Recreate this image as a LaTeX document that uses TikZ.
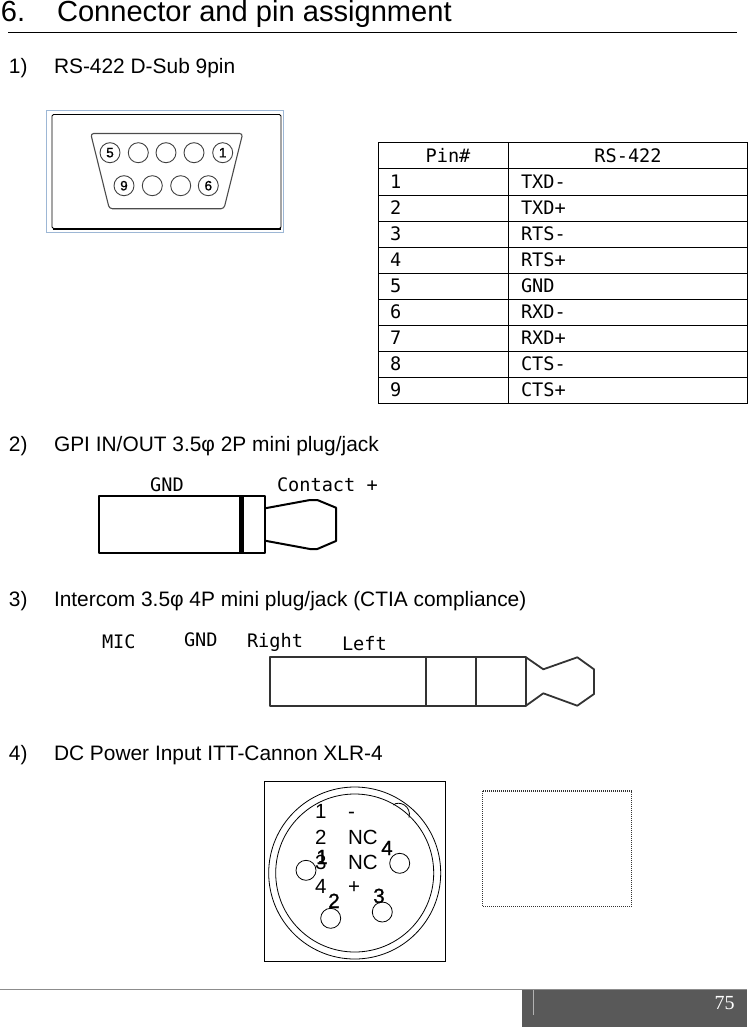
\documentclass[tikz,border=0pt]{standalone}
\usepackage{fontspec}
\setmainfont{Liberation Sans}
\newfontfamily\monof{DejaVu Sans Mono}
\newfontfamily\pagef{Liberation Serif}
\newfontfamily\fakebold[FakeBold=1.2]{Liberation Sans}
\definecolor{footgray}{HTML}{595959}
\definecolor{bluebox}{HTML}{9DB7D5}
\definecolor{plugblack}{HTML}{333333}
\tikzset{
  x=1pt,y=-1pt,
  every node/.style={inner sep=0pt,outer sep=0pt,anchor=base west},
  title/.style={font=\fontsize{29.1}{32}\selectfont},
  sub/.style={font=\fontsize{20.9}{24}\selectfont},
  mono/.style={font=\monof\fontsize{18.6}{22}\selectfont},
  tabhead/.style={mono,anchor=base},
  xlrtext/.style={font=\fontsize{20.5}{24}\selectfont},
  xlrpin/.style={font=\fakebold\fontsize{20.5}{24}\selectfont,anchor=base},
  grid/.style={draw=black,line width=1pt},
  pinc/.style={draw=black!75,line width=0.9pt},
  pinlab/.style={font=\fakebold\fontsize{13.5}{14}\selectfont},
  plug/.style={draw=black,line width=2pt,line join=round},
  plugb/.style={draw=plugblack,line width=1.8pt,line join=round},
  xlr/.style={draw=black,line width=0.8pt},
}
\begin{document}
\begin{tikzpicture}
\useasboundingbox (0,0) rectangle (747,1027);
% heading
\node[title] (h6) at (1,21.5) {6.};
\node[title] (h6t) at (57,21.5) {Connector and pin assignment};
\draw[black,line width=0.8pt] (8,32.5) -- (737,32.5);
% section lines
\node[sub] (s1n) at (9,73.3) {1)};
\node[sub] (s1) at (54,73.3) {RS-422 D-Sub 9pin};
\node[sub] (s2n) at (9,451.3) {2)};
\node[sub] (s2) at (54,451.3) {GPI IN/OUT 3.5φ 2P mini plug/jack};
\node[sub] (s3n) at (9,606.3) {3)};
\node[sub] (s3) at (54,606.3) {Intercom 3.5φ 4P mini plug/jack (CTIA compliance)};
\node[sub] (s4n) at (9,760.3) {4)};
\node[sub] (s4) at (54,760.3) {DC Power Input ITT-Cannon XLR-4};
% D-sub
\draw[bluebox,line width=0.8pt] (46.5,110.5) rectangle (283,232);
\draw[black,line width=0.9pt,rounded corners=1.5pt] (52,114.5) -- (281,114.5) -- (281,228.5) -- (52,228.5) -- cycle;
\draw[black,line width=1.6pt] (53,229) -- (281,229);
\draw[black!70,line width=1.1pt,rounded corners=3pt] (90.7,133.5) -- (242.7,133.5) -- (224,208.7) -- (109.3,208.7) -- cycle;
\foreach \px/\lab in {110/5,138.3/,166/,194/,222.7/1}
  \node[pinc,circle,minimum size=20pt,anchor=center,pinlab] (pa\px) at (\px,152.7) {\lab};
\foreach \px/\lab in {124/9,152.3/,180.7/,208.3/6}
  \node[pinc,circle,minimum size=20pt,anchor=center,pinlab] (pb\px) at (\px,185.7) {\lab};
% table
\draw[grid] (378,143) rectangle (747,403);
\draw[grid] (508,143) -- (508,403);
\foreach \ry in {169,195,221,247,273,299,325,351,377}
  \draw[grid] (378,\ry) -- (747,\ry);
\node[tabhead] (th1) at (448,162.7) {Pin\#};
\node[tabhead] (th2) at (628,162.7) {RS-422};
\foreach \n/\sig [count=\i from 0] in {1/TXD-,2/TXD+,3/RTS-,4/RTS+,5/GND,6/RXD-,7/RXD+,8/CTS-,9/CTS+}{
  \node[mono] (tn\n) at (390,188.7+26*\i) {\n};
  \node[mono] (ts\n) at (521,188.7+26*\i) {\sig};
}
% 2P plug
\node[mono,anchor=base] (gnd2) at (167,491) {GND};
\node[mono] (cont) at (277,491) {Contact +};
\draw[plug] (99,496) rectangle (265,553);
\draw[black,line width=4.5pt] (241.7,496) -- (241.7,553);
\draw[plug] (265,508.3) -- (310,500) -- (317.3,500) -- (336,507.7) -- (336,541) -- (317.3,549) -- (310,549) -- (265,540.7);
% 4P plug
\node[mono] (mic) at (102,648) {MIC};
\node[mono] (gnd4) at (184,646.5) {GND};
\begin{scope}
  \clip (240,625) rectangle (320,650.5);
  \node[mono] (right) at (247,647.5) {Right};
\end{scope}
\node[mono] (left) at (342,650) {Left};
\draw[plugb] (270,657.3) rectangle (526,705.7);
\draw[plugb] (425.7,657.3) -- (425.7,705.7);
\draw[plugb] (475.7,657.3) -- (475.7,705.7);
\draw[plugb] (526,657.3) -- (543.3,669.3) -- (577.3,657.3) -- (594,669.3) -- (594,694) -- (577.3,705.7) -- (543.3,693.3) -- (526,705.7);
% XLR
\draw[xlr] (264.5,781.5) rectangle (445.5,961.5);
\draw[xlr] (354.7,873) circle (86);
\draw[xlr] (354.7,873) circle (79);
\draw[xlr] (393.3,805) .. controls (399,800) and (412,806) .. (409,817.7);
\node[xlr,circle,minimum size=20pt,anchor=center] (x1) at (306,870.3) {};
\node[xlr,circle,minimum size=20pt,anchor=center] (x4) at (399.7,863.3) {};
\node[xlr,circle,minimum size=20pt,anchor=center] (x2) at (330.7,918.3) {};
\node[xlr,circle,minimum size=20pt,anchor=center] (x3) at (382.3,912) {};
\node[xlrtext] (l1) at (315,818.5) {1};
\node[xlrtext] (v1) at (348,818.5) {-};
\node[xlrtext] (l2) at (315,844) {2};
\node[xlrtext] (v2) at (348,844) {NC};
\node[xlrtext] (l3) at (315,869) {3};
\node[xlrtext] (v3) at (348,869) {NC};
\node[xlrtext] (l4) at (315,893.5) {4};
\node[xlrtext] (v4) at (348,893.5) {+};
\node[xlrpin] (p1) at (322,864) {1};
\node[xlrpin] (p4) at (387,855) {4};
\node[xlrpin] (p2) at (334,908) {2};
\node[xlrpin] (p3) at (379,903) {3};
\draw[black!80,line width=1.2pt,dash pattern=on 1pt off 1pt] (482.5,791) rectangle (631.5,906.5);
% footer
\draw[black!45,line width=0.8pt] (0,989.5) -- (522,989.5);
\fill[footgray] (522,989) rectangle (747,1027);
\draw[black!45,line width=0.8pt] (522,989.5) -- (747,989.5);
\draw[black!30,line width=0.8pt] (533.5,990) -- (533.5,1014.5);
\node[font=\pagef\fontsize{20}{22}\selectfont,text=white] (pg) at (714.5,1009) {75};
\end{tikzpicture}
\end{document}
